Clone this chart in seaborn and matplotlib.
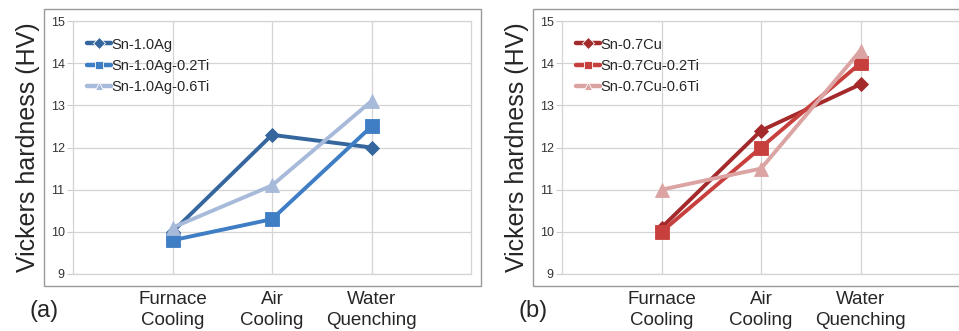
import pandas as pd
import seaborn as sns
import matplotlib.pyplot as plt
from matplotlib.patches import Rectangle

# Kategorien (x-Achse)
cooling = ["Furnace\nCooling", "Air\nCooling", "Water\nQuenching"]

# (a) Sn-Ag Legierungen
ag_names = ["Sn-1.0Ag", "Sn-1.0Ag-0.2Ti", "Sn-1.0Ag-0.6Ti"]
ag_00 = [10.0, 12.3, 12.0]
ag_02 = [9.8, 10.3, 12.5]
ag_06 = [10.1, 11.1, 13.1]

# (b) Sn-Cu Legierungen
cu_names = ["Sn-0.7Cu", "Sn-0.7Cu-0.2Ti", "Sn-0.7Cu-0.6Ti"]
cu_00 = [10.1, 12.4, 13.5]
cu_02 = [10.0, 12.0, 14.0]
cu_06 = [11.0, 11.5, 14.3]

blue_palette = ["#35669E", "#3F7DC4", "#A7BADA"]
red_palette = ["#A3292B", "#C8403D", "#DBA4A3"]
marker_list = ["D", "s", "^"]
marker_sizes = [7.5, 10, 10]


def long_df(names, series):
    rows = []
    for name, vals in zip(names, series):
        for c, v in zip(cooling, vals):
            rows.append({"Kühlung": c, "Legierung": name, "HV": v})
    return pd.DataFrame(rows)


sns.set_style("white")
plt.rcParams["font.family"] = ["Liberation Sans", "DejaVu Sans"]

fig = plt.figure(figsize=(9.59, 3.31), dpi=100)

# Rahmen um beide Diagramme
for x0, x1 in [(44, 481), (533, 962)]:
    fig.patches.append(Rectangle((x0 / 959, 1 - 286 / 331), (x1 - x0) / 959, 277 / 331,
                                 transform=fig.transFigure, fill=False,
                                 edgecolor="#9a9a9a", linewidth=1.0))


def panel(left, df, names, palette, tag, tag_x):
    ax = fig.add_axes([left / 959, 1 - 274 / 331, 398 / 959, 253 / 331])
    sns.lineplot(data=df, x="Kühlung", y="HV", hue="Legierung", style="Legierung",
                 hue_order=names, style_order=names, palette=palette,
                 markers=marker_list, dashes=False, sort=False, linewidth=2.8,
                 markeredgewidth=0.6, ax=ax)
    for line, ms in zip(ax.lines, marker_sizes):
        line.set_markersize(ms)
        line.set_markeredgecolor(line.get_color())
    ax.set_xlim(-1, 3)
    ax.set_ylim(9, 15)
    ax.set_yticks(range(9, 16))
    ax.set_xticks(range(3))
    ax.set_xticklabels(cooling, fontsize=13.5, linespacing=1.35)
    ax.tick_params(axis="x", length=0, pad=12)
    ax.tick_params(axis="y", length=4, color="#cccccc", labelsize=9, pad=2,
                   labelcolor="#333333", direction="out", left=True)
    ax.grid(True, color="#d4d4d4", linewidth=0.9)
    for s in ax.spines.values():
        s.set_color("#d4d4d4")
        s.set_linewidth(0.9)
    ax.set_xlabel("")
    ax.set_ylabel("Vickers hardness (HV)", fontsize=18, labelpad=8)
    leg = ax.legend(loc="upper left", bbox_to_anchor=(0.01, 0.975), frameon=False,
                    fontsize=10.5, handlelength=1.6, handletextpad=0.05,
                    labelspacing=0.5, borderaxespad=0.3)
    for h in leg.legend_handles:
        h.set_linewidth(3.2)
    fig.text(tag_x / 959, 1 - 311 / 331, tag, fontsize=17, ha="center", va="center")
    return ax


panel(73, long_df(ag_names, [ag_00, ag_02, ag_06]), ag_names, blue_palette, "(a)", 44)
panel(562, long_df(cu_names, [cu_00, cu_02, cu_06]), cu_names, red_palette, "(b)", 533)

fig.savefig("out.png", dpi=100)
